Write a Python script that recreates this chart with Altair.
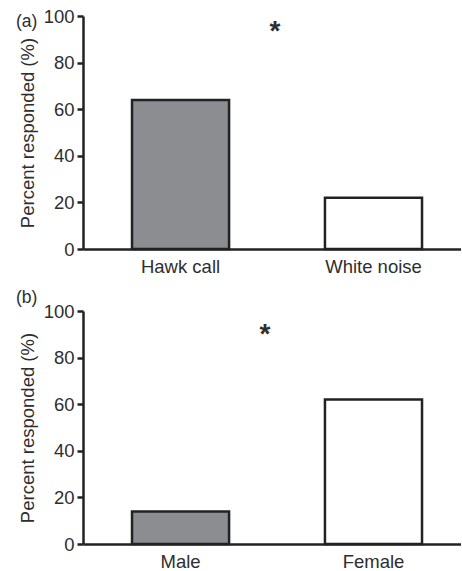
import altair as alt
import pandas as pd

# Panel (a)
cats_a = ["Hawk call", "White noise"]
vals_a = [64, 22]
# Panel (b)
cats_b = ["Male", "Female"]
vals_b = [14, 62]
fills = ["#8b8d91", "#ffffff"]
sig_a = 96.5
sig_b = 93.0
y_ticks = [0, 20, 40, 60, 80, 100]
y_title = "Percent responded (%)"

FONT = "Liberation Sans"
TEXT = "#2e2e2e"
LINE = "#222222"
FS = 18.5


def panel(cats, vals, sig, sig_dx, label, label_y):
    df = pd.DataFrame({"cat": cats, "val": vals, "fill": fills})
    xs = alt.Scale(domain=cats, paddingInner=0.497, paddingOuter=0.228, align=0.557)
    x = alt.X("cat:N", scale=xs, sort=cats,
              axis=alt.Axis(title=None, labelAngle=0, ticks=False, tickSize=0,
                            labelPadding=8))
    y = alt.Y("val:Q", scale=alt.Scale(domain=[0, 100], nice=False),
              axis=alt.Axis(title=y_title, values=y_ticks, tickSize=6,
                            titlePadding=6, labelPadding=3))
    bars = alt.Chart(df).mark_bar(stroke=LINE, strokeWidth=2.5).encode(
        x=x, y=y, fill=alt.Fill("fill:N", scale=None)
    )
    sdf = pd.DataFrame({"cat": [cats[0]], "val": [sig], "t": ["*"]})
    star = alt.Chart(sdf).mark_text(
        fontSize=28, fontWeight="bold", color=TEXT, baseline="middle", dy=8, dx=sig_dx
    ).encode(
        x=alt.X("cat:N", bandPosition=1),
        y=alt.Y("val:Q"),
        text="t:N",
    )
    ldf = pd.DataFrame({"t": [label]})
    lab = alt.Chart(ldf).mark_text(
        fontSize=17.5, color=TEXT, align="left", baseline="alphabetic"
    ).encode(x=alt.value(-67), y=alt.value(label_y), text="t:N")
    return alt.layer(bars, star, lab).properties(width=378, height=233)


pa = panel(cats_a, vals_a, sig_a, 46, "(a)", 10.5)
pb = panel(cats_b, vals_b, sig_b, 36, "(b)", -8)

chart = alt.vconcat(pa, pb, spacing=13).properties(
    padding={"top": 7, "left": 16, "right": 0, "bottom": 0},
    background="white",
).configure_view(stroke=None).configure_axis(
    grid=False,
    domainColor=LINE, domainWidth=2.5,
    tickColor=LINE, tickWidth=2.5,
    labelFont=FONT, labelFontSize=FS, labelColor=TEXT,
    titleFont=FONT, titleFontSize=FS, titleFontWeight="normal", titleColor=TEXT,
).configure_text(font=FONT)

chart.save("out.html", embed_options={"renderer": "svg", "actions": False})
